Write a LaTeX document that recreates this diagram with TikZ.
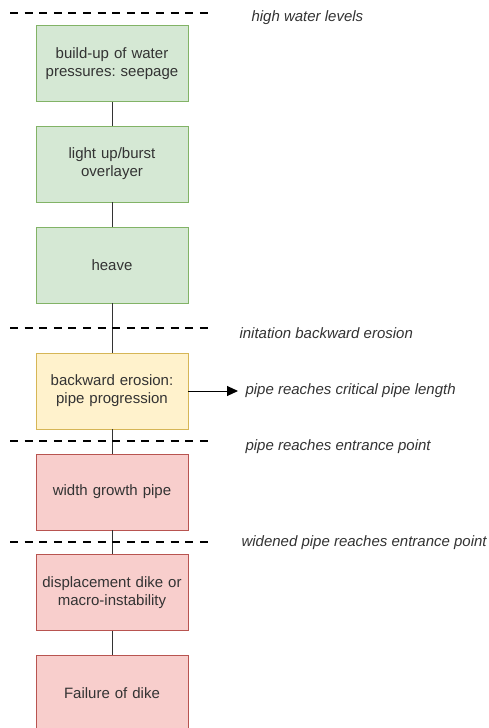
\documentclass[tikz,border=0pt]{standalone}
\usepackage{fontspec}
\setmainfont{Liberation Sans}
\frenchspacing
\usetikzlibrary{arrows.meta}
\definecolor{greenfill}{HTML}{D5E8D4}
\definecolor{greenline}{HTML}{82B366}
\definecolor{yellowfill}{HTML}{FFF2CC}
\definecolor{yellowline}{HTML}{D6B656}
\definecolor{redfill}{HTML}{F8CECC}
\definecolor{redline}{HTML}{B85450}
\definecolor{txt}{HTML}{333333}
\begin{document}
\begin{tikzpicture}[x=1pt,y=-1pt,
  font=\fontsize{15}{18}\selectfont,
  box/.style={draw, line width=0.9pt, minimum width=152pt, minimum height=76pt,
    inner sep=2pt, align=center, text=txt, text width=146pt},
  okbox/.style={box, fill=greenfill, draw=greenline},
  midbox/.style={box, fill=yellowfill, draw=yellowline},
  badbox/.style={box, fill=redfill, draw=redline},
  stage/.style={draw, line width=2.6pt, dash pattern=on 8pt off 6.6pt},
  link/.style={draw=txt, line width=1pt},
  note/.style={anchor=west, text=txt, font=\fontsize{15}{18}\selectfont\itshape}]
\useasboundingbox (0,0) rectangle (489,728);
\fill[white] (0,0) rectangle (489,728);

% process steps
\node[okbox]  (b1) at (112,63.5) {build-up of water\\pressures: seepage};
\node[okbox]  (b2) at (112,164)  {light up/burst\\overlayer};
\node[okbox]  (b3) at (112,265)  {heave};
\node[midbox] (b4) at (112,391)  {backward erosion:\\pipe progression};
\node[badbox] (b5) at (112,492)  {width growth pipe};
\node[badbox] (b6) at (112,592.5){displacement dike or\\macro-instability};
\node[badbox] (b7) at (112,693)  {Failure of dike};

% connections between steps
\draw[link] (b1) -- (b2);
\draw[link] (b2) -- (b3);
\draw[link] (b3) -- (b4);
\draw[link] (b4) -- (b5);
\draw[link] (b5) -- (b6);
\draw[link] (b6) -- (b7);

% stage boundaries
\coordinate (s1a) at (10,13);  \coordinate (s1b) at (214,13);
\coordinate (s2a) at (10,328); \coordinate (s2b) at (214,328);
\coordinate (s3a) at (10,441); \coordinate (s3b) at (214,441);
\coordinate (s4a) at (10,542); \coordinate (s4b) at (214,542);
\draw[stage] (s1a) -- (s1b);
\draw[stage] (s2a) -- (s2b);
\draw[stage] (s3a) -- (s3b);
\draw[stage] (s4a) -- (s4b);

% stage descriptions
\node[note] (n1) at (248,18)  {high water levels};
\node[note] (n2) at (236,333) {initation backward erosion};
\node[note] (n4) at (242,447) {pipe reaches entrance point};
\node[note] (n5) at (238,543) {widened pipe reaches entrance point};

% side outcome
\node[note] (n3) at (242,391) {pipe reaches critical pipe length};
\draw[link, draw=black, shorten >=4pt, -{Triangle[length=11pt,width=10pt]}] (b4.east) -- (n3.west);
\end{tikzpicture}
\end{document}
